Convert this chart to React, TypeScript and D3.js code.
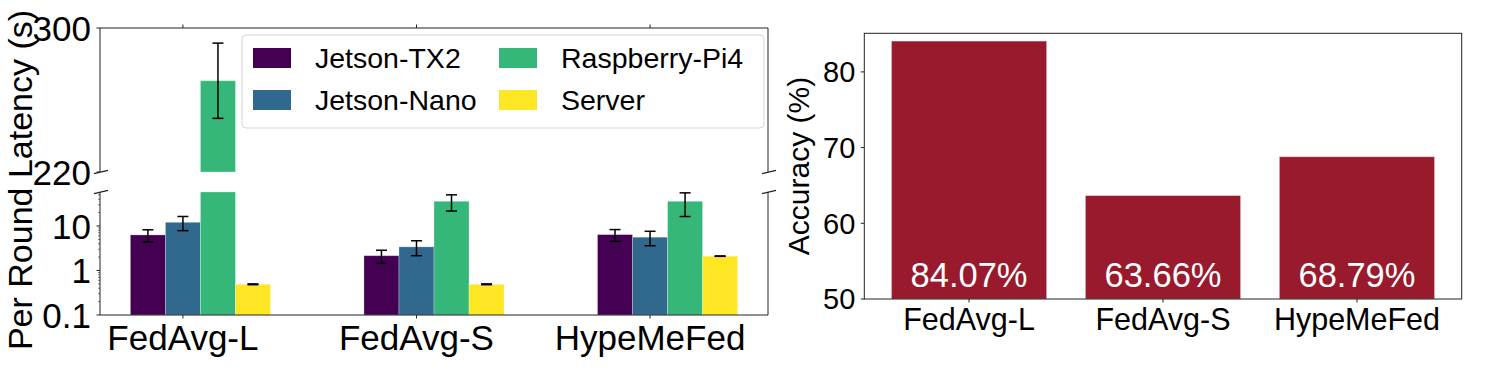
import * as d3 from 'd3';

const categories = ["FedAvg-L", "FedAvg-S", "HypeMeFed"];
const devices = ["Jetson-TX2", "Jetson-Nano", "Raspberry-Pi4", "Server"];
const deviceColors = ["#440154", "#31688e", "#35b779", "#fde725"];

// per round latency (s) and std, one list per device
const tx2Latency = [6.3, 2.15, 6.4];
const tx2Std = [1.9, 0.7, 1.9];
const nanoLatency = [12.1, 3.4, 5.6];
const nanoStd = [4.25, 1.25, 2.0];
const piLatency = [270.7, 35.9, 35.9];
const piStd = [20.9, 14.25, 19.6];
const serverLatency = [0.49, 0.49, 2.1];
const serverStd = [0.01, 0.01, 0.02];

const topTicks = [220, 300];
const bottomTicks = [0.1, 1, 10];

const accuracy = [84.07, 63.66, 68.79];
const accuracyTicks = [50, 60, 70, 80];

const font = "'Liberation Sans', Arial, Helvetica, sans-serif";
const spine = "#222";

function LatencyChart() {
  const means = [tx2Latency, nanoLatency, piLatency, serverLatency];
  const stds = [tx2Std, nanoStd, piStd, serverStd];

  const left = 100, right = 768;
  const topY0 = 28, topY1 = 172;
  const botY0 = 192, botY1 = 315;

  const x = d3.scaleLinear().domain([-0.355, 2.505]).range([left, right]);
  const yTop = d3.scaleLinear().domain([220, 300]).range([topY1, topY0]);
  const yBot = d3.scaleLog().domain([0.1, 58]).range([botY1, botY0]);
  const bw = x(0.15) - x(0);

  const bars: any[] = [];
  const errs: any[] = [];
  devices.forEach((dev, j) => {
    categories.forEach((cat, i) => {
      const v = means[j][i];
      const s = stds[j][i];
      const cx = x(i + (j - 1) * 0.15);
      // bottom (log) panel
      const yb = yBot(Math.min(v, 58));
      bars.push(<rect key={`b-${j}-${i}`} x={cx - bw / 2} y={yb} width={bw} height={botY1 - yb}
        fill={deviceColors[j]} stroke="rgba(255,255,255,0.35)" strokeWidth={0.8} />);
      if (v > 220) {
        const yt = yTop(Math.min(v, 300));
        bars.push(<rect key={`t-${j}-${i}`} x={cx - bw / 2} y={yt} width={bw} height={topY1 - yt}
          fill={deviceColors[j]} stroke="rgba(255,255,255,0.35)" strokeWidth={0.8} />);
      }
      const sc = v > 220 ? yTop : yBot;
      const y1 = sc(v + s);
      const y2 = sc(Math.max(v - s, 0.11));
      errs.push(
        <g key={`e-${j}-${i}`} stroke="#000" strokeWidth={1.5}>
          <line x1={cx} x2={cx} y1={y1} y2={y2} />
          <line x1={cx - 5.5} x2={cx + 5.5} y1={y1} y2={y1} />
          <line x1={cx - 5.5} x2={cx + 5.5} y1={y2} y2={y2} />
        </g>
      );
    });
  });

  const minor = yBot.ticks().filter(t => !bottomTicks.some(b => Math.abs(b - t) < 1e-9));

  const breakMark = (bx: number, by: number, k: string) => (
    <line key={k} x1={bx - 6} y1={by + 1.6} x2={bx + 8} y2={by - 1.6} stroke={spine} strokeWidth={1.2} />
  );

  return (
    <g fontFamily={font}>
      {bars}
      {errs}
      {/* spines */}
      <line x1={left} x2={left} y1={topY0} y2={topY1} stroke={spine} />
      <line x1={right} x2={right} y1={topY0} y2={topY1} stroke={spine} />
      <line x1={left} x2={right} y1={topY0} y2={topY0} stroke={spine} />
      <line x1={left} x2={left} y1={botY0} y2={botY1} stroke={spine} />
      <line x1={right} x2={right} y1={botY0} y2={botY1} stroke={spine} />
      <line x1={left} x2={right} y1={botY1} y2={botY1} stroke={spine} />
      {breakMark(left, topY1, 'bk1')}
      {breakMark(left, botY0, 'bk2')}
      {breakMark(right, topY1, 'bk3')}
      {breakMark(right, botY0, 'bk4')}
      {/* y ticks */}
      {topTicks.map(t => (
        <g key={`tt-${t}`}>
          <line x1={left - 3.5} x2={left} y1={yTop(t)} y2={yTop(t)} stroke={spine} />
          <text x={left - 9} y={yTop(t)} dy="0.36em" textAnchor="end" fontSize={35}>{t}</text>
        </g>
      ))}
      {bottomTicks.map(t => (
        <g key={`bt-${t}`}>
          <line x1={left - 3.5} x2={left} y1={yBot(t)} y2={yBot(t)} stroke={spine} />
          <text x={left - 9} y={yBot(t)} dy="0.36em" textAnchor="end" fontSize={35}>{t}</text>
        </g>
      ))}
      {minor.map((t, k) => (
        <line key={`mn-${k}`} x1={left - 2} x2={left} y1={yBot(t)} y2={yBot(t)} stroke={spine} strokeWidth={0.6} />
      ))}
      {/* x ticks */}
      {categories.map((c, i) => (
        <g key={`xt-${c}`}>
          <line x1={x(i)} x2={x(i)} y1={topY0 - 3.5} y2={topY0} stroke={spine} />
          <line x1={x(i)} x2={x(i)} y1={botY1} y2={botY1 + 3.5} stroke={spine} />
          <text x={x(i)} y={350} textAnchor="middle" fontSize={35}>{c}</text>
        </g>
      ))}
      <text transform="translate(32,180) rotate(-90)" textAnchor="middle" fontSize={34}>Per Round Latency (s)</text>
      {/* legend */}
      <rect x={242} y={35} width={522} height={93} rx={4} fill="#fff" fillOpacity={0.85} stroke="#d5d5d5" />
      {devices.map((d, j) => {
        const col = Math.floor(j / 2), row = j % 2;
        const px = col === 0 ? 253 : 499;
        const cy = row === 0 ? 58 : 100;
        return (
          <g key={`lg-${d}`}>
            <rect x={px} y={cy - 10} width={38} height={20} fill={deviceColors[j]} />
            <text x={px + 62} y={cy + 10} fontSize={28.5}>{d}</text>
          </g>
        );
      })}
    </g>
  );
}

function AccuracyChart() {
  const left = 864.3, right = 1461.7, top = 33.3, bottom = 299;
  const x = d3.scaleBand<string>().domain(categories).range([left, right]).paddingInner(0.2).paddingOuter(0.14);
  const y = d3.scaleLinear().domain([50, 85.1]).range([bottom, top]);

  return (
    <g fontFamily={font}>
      {categories.map((c, i) => (
        <g key={`ab-${c}`}>
          <rect x={x(c)} y={y(accuracy[i])} width={x.bandwidth()} height={bottom - y(accuracy[i])}
            fill="#981a2c" stroke="rgba(255,255,255,0.4)" strokeWidth={0.8} />
          <text x={(x(c) as number) + x.bandwidth() / 2} y={287} textAnchor="middle" fontSize={34.5} fill="#fff">
            {accuracy[i].toFixed(2) + "%"}
          </text>
        </g>
      ))}
      <rect x={left} y={top} width={right - left} height={bottom - top} fill="none" stroke={spine} />
      {accuracyTicks.map(t => (
        <g key={`at-${t}`}>
          <line x1={left - 3.5} x2={left} y1={y(t)} y2={y(t)} stroke={spine} />
          <text x={left - 9} y={y(t)} dy="0.36em" textAnchor="end" fontSize={29}>{t}</text>
        </g>
      ))}
      {categories.map(c => {
        const cx = (x(c) as number) + x.bandwidth() / 2;
        return (
          <g key={`ax-${c}`}>
            <line x1={cx} x2={cx} y1={bottom} y2={bottom + 3.5} stroke={spine} />
            <text x={cx} y={330} textAnchor="middle" fontSize={30.5}>{c}</text>
          </g>
        );
      })}
      <text transform="translate(809,166) rotate(-90)" textAnchor="middle" fontSize={30}>Accuracy (%)</text>
    </g>
  );
}

export default function App() {
  return (
    <svg width={1495} height={371} style={{ position: 'absolute', left: 0, top: 0, background: '#fff' }}>
      <LatencyChart />
      <AccuracyChart />
    </svg>
  );
}
